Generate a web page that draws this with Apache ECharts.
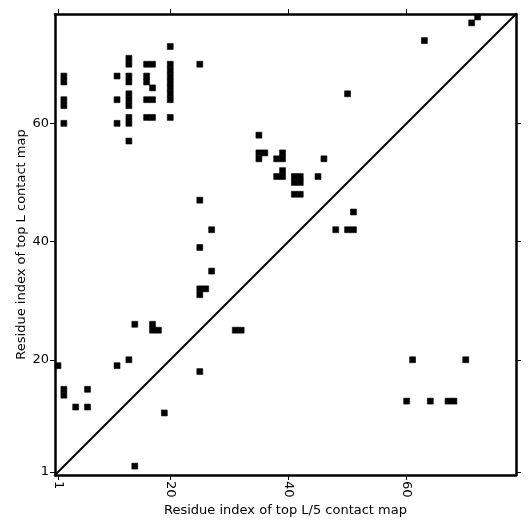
<!DOCTYPE html>
<html>
<head>
<meta charset="utf-8">
<script src="https://cdn.jsdelivr.net/npm/echarts@6/dist/echarts.min.js"></script>
<style>
  html, body { margin: 0; padding: 0; background: #fff; }
  #main { width: 531px; height: 531px; }
</style>
</head>
<body>
<div id="main"></div>
<script>
// contacts above the diagonal (top L map), [i, j]
const upperContacts = [
  [2, 68], [2, 67], [2, 64], [2, 63], [2, 60],
  [11, 68], [11, 64], [11, 60],
  [13, 71], [13, 70], [13, 68], [13, 67], [13, 65], [13, 64], [13, 63], [13, 61], [13, 60], [13, 57],
  [16, 70], [17, 70], [16, 68], [16, 67], [17, 66], [16, 64], [17, 64], [16, 61], [17, 61],
  [20, 73], [20, 70], [20, 69], [20, 68], [20, 67], [20, 66], [20, 65], [20, 64], [20, 61],
  [25, 70],
  [35, 58], [35, 55], [36, 55], [35, 54], [39, 55], [38, 54], [39, 54], [46, 54],
  [39, 52], [38, 51], [39, 51], [41, 51], [42, 51], [41, 50], [42, 50], [45, 51], [41, 48], [42, 48],
  [25, 47], [27, 42], [25, 39], [27, 35], [25, 32], [26, 32], [25, 31],
  [50, 65], [63, 74], [71, 77], [72, 78],
  [14, 26], [17, 26], [17, 25], [18, 25], [13, 20], [11, 19], [1, 19],
  [2, 15], [2, 14], [6, 15], [4, 12], [6, 12]
];
// contacts below the diagonal (top L/5 map)
const lowerContacts = [
  [31, 25], [32, 25], [25, 18], [19, 11], [14, 2],
  [48, 42], [50, 42], [51, 42], [51, 45],
  [61, 20], [70, 20], [60, 13], [64, 13], [67, 13], [68, 13]
];
const tickValues = [1, 20, 40, 60];
const axisMin = 0.5;
const axisMax = 78.5;

const chart = echarts.init(document.getElementById('main'));

const frameLine = { lineStyle: { color: '#000', width: 2.5 } };
const font = 'DejaVu Sans';

function cell(params, api) {
  const x = api.value(0), y = api.value(1);
  const p = api.coord([x - 0.5, y + 0.5]);
  const s = api.size([1, 1]);
  return {
    type: 'rect',
    shape: { x: p[0], y: p[1], width: s[0], height: s[1] },
    // thin stroke so neighbouring cells join without a hairline gap
    style: { fill: '#000', stroke: '#000', lineWidth: 0.6 }
  };
}

function makeAxis(pos, showLabels, name, rot) {
  const ax = {
    type: 'value',
    position: pos,
    min: axisMin,
    max: axisMax,
    axisLine: { show: true, onZero: false, ...frameLine },
    splitLine: { show: false },
    axisTick: {
      show: true, inside: false, length: 5,
      customValues: tickValues,
      lineStyle: { color: '#000', width: 1 }
    },
    axisLabel: {
      show: showLabels,
      customValues: tickValues,
      color: '#000', fontSize: 13, fontFamily: font,
      rotate: rot || 0,
      margin: 6
    }
  };
  if (name) {
    ax.name = name;
    ax.nameLocation = 'middle';
    ax.nameMoveOverlap = false;
    ax.nameTextStyle = { color: '#000', fontSize: 13, fontFamily: font };
  }
  return ax;
}

const xBottom = makeAxis('bottom', true, 'Residue index of top L/5 contact map', -90);
xBottom.nameGap = 29;
const yLeft = makeAxis('left', true, 'Residue index of top L contact map');
yLeft.nameGap = 27;

const option = {
  animation: false,
  backgroundColor: '#fff',
  grid: { left: 55, right: 15, top: 14, bottom: 56 },
  xAxis: [xBottom, makeAxis('top', false)],
  yAxis: [yLeft, makeAxis('right', false)],
  series: [
    {
      type: 'custom',
      renderItem: cell,
      data: upperContacts.concat(lowerContacts),
      encode: { x: 0, y: 1 },
      z: 2
    },
    {
      type: 'line',
      data: [[axisMin, axisMin], [axisMax, axisMax]],
      showSymbol: false,
      lineStyle: { color: '#000', width: 2 },
      z: 3
    }
  ]
};

chart.setOption(option);
</script>
</body>
</html>
